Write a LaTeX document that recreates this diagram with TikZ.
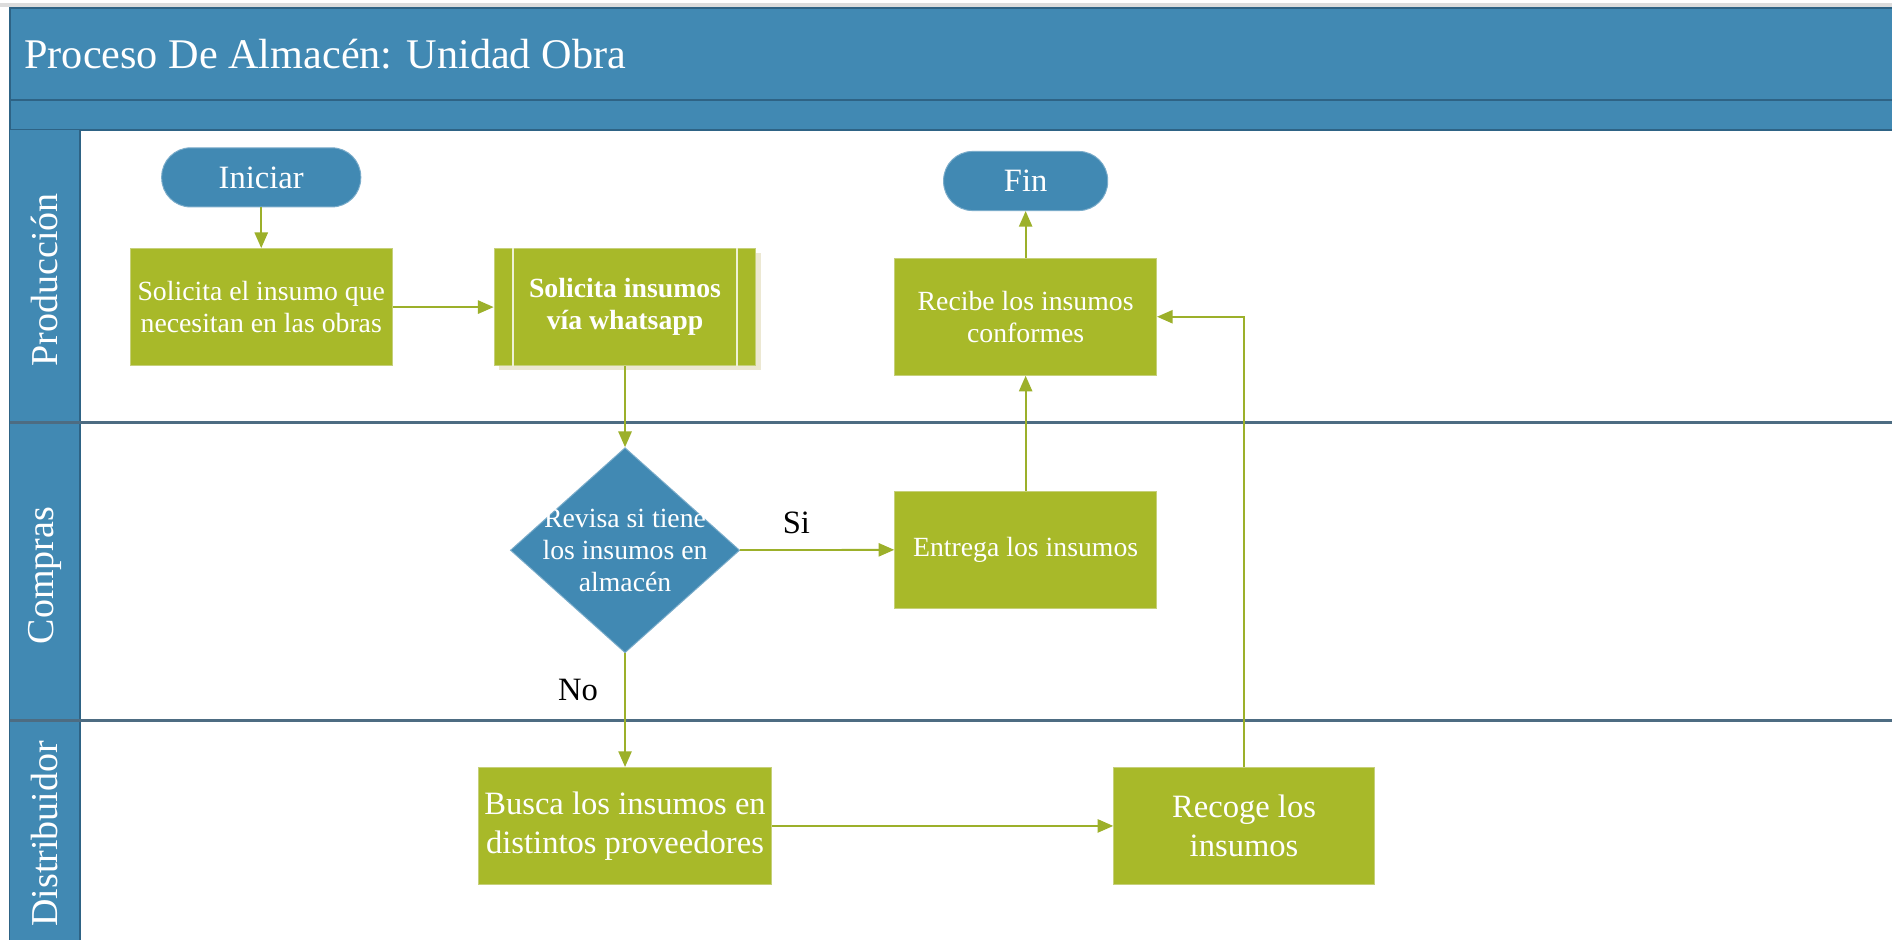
\documentclass[tikz,border=0pt]{standalone}
\usepackage{fontspec}
\setmainfont{Liberation Serif}
\usetikzlibrary{arrows.meta,shapes.geometric,shadows,calc}

\definecolor{laneblue}{HTML}{4189B3}
\definecolor{edgeblue}{HTML}{2E6385}
\definecolor{sepline}{HTML}{4D6C82}
\definecolor{taskgreen}{HTML}{A8B929}
\definecolor{taskedge}{HTML}{C6D07A}
\definecolor{flowgreen}{HTML}{9CB02A}
\definecolor{topgrey}{HTML}{DCDCDC}
\definecolor{shadowtan}{HTML}{ECE8D2}

\newcommand\fsTitle{\fontsize{35}{40}\selectfont}
\newcommand\fsLane{\fontsize{31.5}{36}\selectfont}
\newcommand\fsTask{\fontsize{23}{26.5}\selectfont}
\newcommand\fsBig{\fontsize{27}{32}\selectfont}

\begin{document}
\begin{tikzpicture}[x=1pt,y=-1pt,
  task/.style={rectangle, fill=taskgreen, draw=taskedge, line width=0.8,
    text=white, align=center, inner sep=0, minimum width=217, minimum height=97,
    font=\fsTask},
  bigtask/.style={task, font=\fsBig},
  term/.style={rectangle, rounded corners=24, fill=laneblue, draw=laneblue!70!white,
    line width=0.8, text=white, inner sep=0, minimum height=49, font=\fsBig},
  decision/.style={diamond, fill=laneblue, draw=laneblue!70!white, line width=0.8,
    inner sep=0, minimum width=190, minimum height=170},
  dtext/.style={text=white, align=center, inner sep=0, font=\fsTask},
  lanelabel/.style={rotate=90, text=white, inner sep=0, font=\fsLane},
  flow/.style={draw=flowgreen, line width=1.5, -{Triangle[length=13,width=11]}},
  answer/.style={text=black, inner sep=0, font=\fsBig}]

\useasboundingbox (0,0) rectangle (1568,779);
\fill[white] (0,0) rectangle (1568,779);
\fill[topgrey] (0,2.8) rectangle (1568,5.6);

% header bands
\fill[laneblue] (8,7) rectangle (1568,108);
\draw[edgeblue, line width=1.6] (1568,7) -- (8,7) -- (8,779);
\draw[edgeblue, line width=1.6] (8,83) -- (1568,83);
\draw[edgeblue, line width=1.6] (8,108) -- (1568,108);
\node[anchor=base west, text=white, inner sep=0, font=\fsTitle] (title) at (20,57) {Proceso De Almacén: Unidad Obra};

% lane header column
\fill[laneblue] (8,108) rectangle (66,779);
\draw[edgeblue, line width=1.6] (66,108) -- (66,779);
\draw[sepline, line width=2] (8,350) -- (1568,350);
\draw[sepline, line width=2] (8,597) -- (1568,597);

\node[lanelabel] (lprod) at (37,232) {Producción};
\node[lanelabel] (lcomp) at (37,477) {Compras};
\node[lanelabel] (ldist) at (37,691) {Distribuidor};

% Producción
\node[term, minimum width=165] (start) at (216.5,147) {Iniciar};
\node[task] (s1) at (216.5,254.5) {Solicita el insumo que\\necesitan en las obras};
\node[task, font=\fsTask\bfseries,
  drop shadow={shadow xshift=4pt, shadow yshift=-4pt, fill=shadowtan, opacity=1}]
  (s2) at (518,254.5) {Solicita insumos\\vía whatsapp};
\draw[white!80!taskgreen, line width=1.2]
  ($(s2.north west)+(16,0)$) -- ($(s2.south west)+(16,0)$)
  ($(s2.north east)+(-16,0)$) -- ($(s2.south east)+(-16,0)$);
\node[term, minimum width=136] (fin) at (850,150) {Fin};
\node[task] (recibe) at (850,262.5) {Recibe los insumos\\conformes};

% Compras
\node[decision] (rev) at (518,456) {};
\node[dtext] (revtxt) at (rev.center) {Revisa si tiene\\los insumos en\\almacén};
\node[task] (entrega) at (850,455.5) {Entrega los insumos};

% Distribuidor
\node[bigtask, minimum width=243] (busca) at (518,684.5) {Busca los insumos en\\distintos proveedores};
\node[bigtask, minimum width=216] (recoge) at (1031,684.5) {Recoge los\\insumos};

% connectors
\draw[flow] (start) -- (s1);
\draw[flow] (s1) -- (s2);
\draw[flow] (s2) -- (rev);
\draw[flow] (rev) -- (entrega);
\draw[flow] (rev) -- (busca);
\draw[flow] (busca) -- (recoge);
\draw[flow] (recoge.north) |- (recibe.east);
\draw[flow] (entrega) -- (recibe);
\draw[flow] (recibe) -- (fin);

\node[answer] (si) at (660,433) {Si};
\node[answer] (no) at (479,572) {No};
\end{tikzpicture}
\end{document}
